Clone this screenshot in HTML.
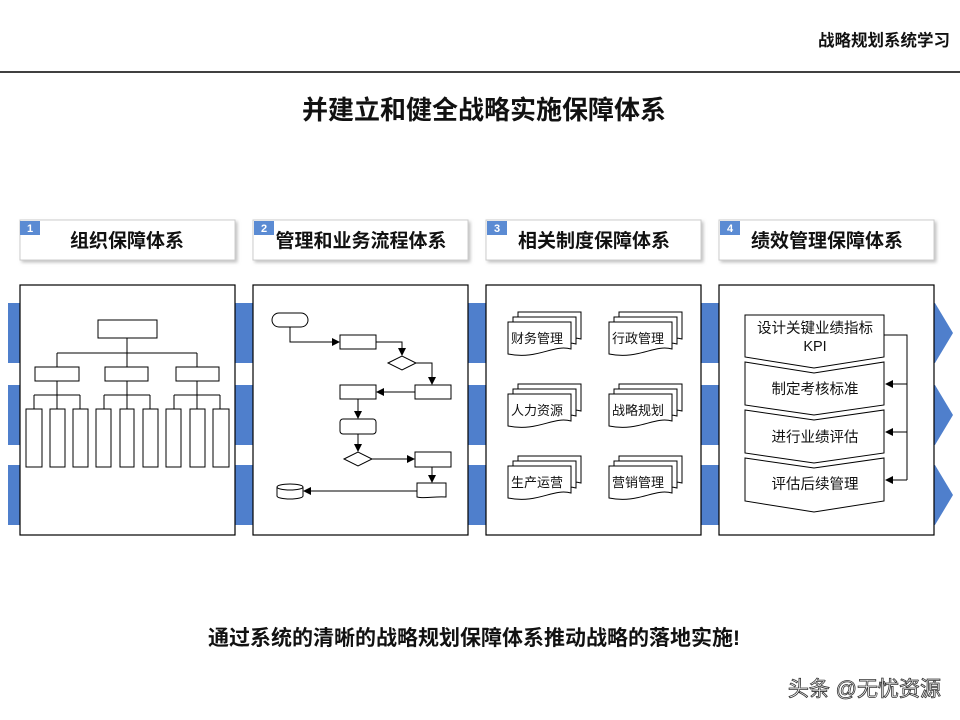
<!DOCTYPE html>
<html><head><meta charset="utf-8"><style>
html,body{margin:0;padding:0;background:#fff;}
svg{display:block;}
text{font-family:"Liberation Sans","Noto Sans CJK SC",sans-serif;}
</style></head><body>
<svg width="960" height="720" viewBox="0 0 960 720" xmlns="http://www.w3.org/2000/svg">
<defs>
<marker id="ar" markerWidth="8" markerHeight="8" refX="7" refY="4" orient="auto" markerUnits="userSpaceOnUse"><path d="M0,0 L8,4 L0,8 Z" fill="#000"/></marker>
<g id="doc">
<path d="M10,-10 H73 V17 C55,12 40,28 10,22 Z" fill="#fff" stroke="#000" stroke-width="1"/>
<path d="M5,-5 H68 V22 C50,17 35,33 5,27 Z" fill="#fff" stroke="#000" stroke-width="1"/>
<path d="M0,0 H63 V27 C45,22 30,38 0,32 Z" fill="#fff" stroke="#000" stroke-width="1"/>
</g>
<filter id="sh" x="-5%" y="-20%" width="115%" height="150%"><feDropShadow dx="2" dy="2" stdDeviation="1.5" flood-color="#999" flood-opacity="0.6"/></filter>
</defs>
<text x="950" y="46" font-size="16.5" font-weight="bold" text-anchor="end" fill="#111">战略规划系统学习</text>
<line x1="0" y1="72" x2="960" y2="72" stroke="#000" stroke-width="1.5"/>
<text x="484" y="119" font-size="26" font-weight="bold" text-anchor="middle" fill="#111">并建立和健全战略实施保障体系</text>

<g fill="#4f7fcc">
<polygon points="8,303 935,303 953,333 935,363 8,363"/>
<polygon points="8,385 935,385 953,415 935,445 8,445"/>
<polygon points="8,465 935,465 953,495 935,525 8,525"/>
</g>

<g font-size="19" font-weight="bold" text-anchor="middle" fill="#111">
<rect x="20" y="220" width="215" height="40" fill="#fff" stroke="#ccc" filter="url(#sh)"/>
<rect x="253" y="220" width="215" height="40" fill="#fff" stroke="#ccc" filter="url(#sh)"/>
<rect x="486" y="220" width="215" height="40" fill="#fff" stroke="#ccc" filter="url(#sh)"/>
<rect x="719" y="220" width="215" height="40" fill="#fff" stroke="#ccc" filter="url(#sh)"/>
<text x="127" y="247">组织保障体系</text>
<text x="361" y="247">管理和业务流程体系</text>
<text x="594" y="247">相关制度保障体系</text>
<text x="827" y="247">绩效管理保障体系</text>
</g>
<g fill="#5b8bd3"><rect x="20" y="221" width="20" height="14"/><rect x="254" y="221" width="20" height="14"/><rect x="487" y="221" width="20" height="14"/><rect x="720" y="221" width="20" height="14"/></g>
<g fill="#fff" font-size="11" font-weight="bold" text-anchor="middle"><text x="30" y="232">1</text><text x="264" y="232">2</text><text x="497" y="232">3</text><text x="730" y="232">4</text></g>

<g fill="#fff" stroke="#000" stroke-width="1.2">
<rect x="20" y="285" width="215" height="250"/>
<rect x="253" y="285" width="215" height="250"/>
<rect x="486" y="285" width="215" height="250"/>
<rect x="719" y="285" width="215" height="250"/>
</g>

<g fill="#fff" stroke="#000" stroke-width="1">
<rect x="98" y="320" width="59" height="18"/>
<path d="M127,338 V367 M57,353 H197 M57,353 V367 M197,353 V367" fill="none"/>
<rect x="35" y="367" width="44" height="14"/><rect x="105" y="367" width="43" height="14"/><rect x="176" y="367" width="43" height="14"/>
<path d="M57,381 V409 M34,395 H80 M34,395 V409 M80,395 V409 M127,381 V409 M104,395 H150 M104,395 V409 M150,395 V409 M197,381 V409 M174,395 H220 M174,395 V409 M220,395 V409" fill="none"/>
<rect x="26" y="409" width="16" height="58"/><rect x="50" y="409" width="15" height="58"/><rect x="73" y="409" width="15" height="58"/>
<rect x="96" y="409" width="15" height="58"/><rect x="120" y="409" width="14" height="58"/><rect x="143" y="409" width="15" height="58"/>
<rect x="166" y="409" width="15" height="58"/><rect x="190" y="409" width="15" height="58"/><rect x="213" y="409" width="16" height="58"/>
</g>

<g fill="#fff" stroke="#000" stroke-width="1">
<rect x="272" y="313" width="36" height="14" rx="7"/>
<rect x="340" y="335" width="36" height="14"/>
<polygon points="388,363 402,356 416,363 402,370"/>
<rect x="415" y="385" width="36" height="14"/>
<rect x="340" y="385" width="36" height="14"/>
<rect x="340" y="419" width="36" height="15" rx="3"/>
<polygon points="344,459 358,452 372,459 358,466"/>
<rect x="415" y="452" width="36" height="15"/>
<path d="M417,483 H446 V497 C435,496 425,499 417,497 Z"/>
<path d="M277,487 V496 A13,3 0 0 0 303,496 V487"/>
<ellipse cx="290" cy="487" rx="13" ry="3"/>
<g fill="none" marker-end="url(#ar)">
<path d="M290,327 V342 H339"/>
<path d="M376,342 H402 V355"/>
<path d="M416,363 H432 V384"/>
<path d="M415,392 H377"/>
<path d="M358,399 V418"/>
<path d="M358,434 V451"/>
<path d="M372,459 H414"/>
<path d="M432,467 V482"/>
<path d="M417,491 H304"/>
</g>
</g>

<use href="#doc" x="508" y="322"/><use href="#doc" x="609" y="322"/>
<use href="#doc" x="508" y="394"/><use href="#doc" x="609" y="394"/>
<use href="#doc" x="508" y="466"/><use href="#doc" x="609" y="466"/>
<g font-size="13" fill="#111">
<text x="511" y="343">财务管理</text><text x="612" y="343">行政管理</text>
<text x="511" y="415">人力资源</text><text x="612" y="415">战略规划</text>
<text x="511" y="487">生产运营</text><text x="612" y="487">营销管理</text>
</g>

<g fill="#fff" stroke="#000" stroke-width="1">
<polygon points="745,315 884,315 884,357 814,368 745,357"/>
<polygon points="745,362 814,373 884,362 884,405 814,415 745,405"/>
<polygon points="745,410 814,420 884,410 884,453 814,463 745,453"/>
<polygon points="745,458 814,468 884,458 884,501 814,512 745,501"/>
<path d="M884,335 H907 V480" fill="none"/>
<g fill="none" marker-end="url(#ar)"><path d="M907,384 H886"/><path d="M907,432 H886"/><path d="M907,480 H886"/></g>
</g>
<g font-size="14.5" fill="#111" text-anchor="middle">
<text x="815" y="333">设计关键业绩指标</text>
<text x="815" y="351">KPI</text>
<text x="815" y="394">制定考核标准</text>
<text x="815" y="442">进行业绩评估</text>
<text x="815" y="489">评估后续管理</text>
</g>

<text x="474" y="645" font-size="21" font-weight="bold" text-anchor="middle" fill="#111">通过系统的清晰的战略规划保障体系推动战略的落地实施!</text>
<text x="941" y="696" font-size="21" text-anchor="end" fill="#fff" stroke="#333" stroke-width="0.8">头条 @无忧资源</text>
</svg>
</body></html>
